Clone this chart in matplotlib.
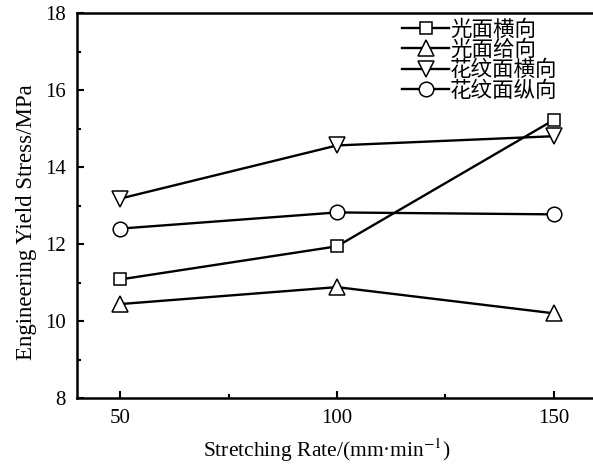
import numpy as np
import matplotlib.pyplot as plt
from matplotlib.ticker import MultipleLocator

plt.rcParams['font.family'] = ['Liberation Serif', 'Noto Sans CJK SC']
plt.rcParams['mathtext.fontset'] = 'stix'

# 拉伸速率
rate = [50, 100, 150]
# 屈服应力
s_guang_heng = [11.08, 11.94, 15.22]
s_guang_gei = [10.44, 10.88, 10.20]
s_hua_heng = [13.18, 14.56, 14.80]
s_hua_zong = [12.40, 12.82, 12.77]
labels = ['光面横向', '光面给向', '花纹面横向', '花纹面纵向']

fig = plt.figure(figsize=(5.93, 4.66), dpi=100)
ax = fig.add_axes([77/593, 68/466, 520/593, 385/466])

series = [s_guang_heng, s_guang_gei, s_hua_heng, s_hua_zong]
markers = ['s', '^', 'v', 'o']
sizes = [9, 12, 12, 10.5]
for s, m, ms, lab in zip(series, markers, sizes, labels):
    ax.plot(rate, s, color='black', lw=1.7, marker=m, ms=ms,
            mfc='white', mec='black', mew=1.1, label=lab)

ax.set_xlim(40, 160)
ax.set_ylim(8, 18)
ax.xaxis.set_major_locator(MultipleLocator(50))
ax.xaxis.set_minor_locator(MultipleLocator(25))
ax.yaxis.set_major_locator(MultipleLocator(2))
ax.yaxis.set_minor_locator(MultipleLocator(1))
ax.tick_params(which='both', direction='in', width=1.5, labelsize=15)
ax.tick_params(which='major', length=5, pad=8)
ax.tick_params(which='minor', length=3)
for sp in ax.spines.values():
    sp.set_linewidth(1.8)

ax.set_xlabel('Stretching Rate/(mm·min$^{-1}$)', fontsize=15.5, labelpad=6)
ax.set_ylabel('Engineering Yield Stress/MPa', fontsize=16.5, labelpad=6)
ax.xaxis.label.set_x(0.48)
ax.yaxis.label.set_y(0.457)

leg = ax.legend(loc='upper left', bbox_to_anchor=(0.60, 1.015), frameon=False,
                fontsize=15.5, handlelength=2.2, handletextpad=0.05,
                labelspacing=0.0, borderaxespad=0.2)

fig.savefig('out.png', dpi=100)
